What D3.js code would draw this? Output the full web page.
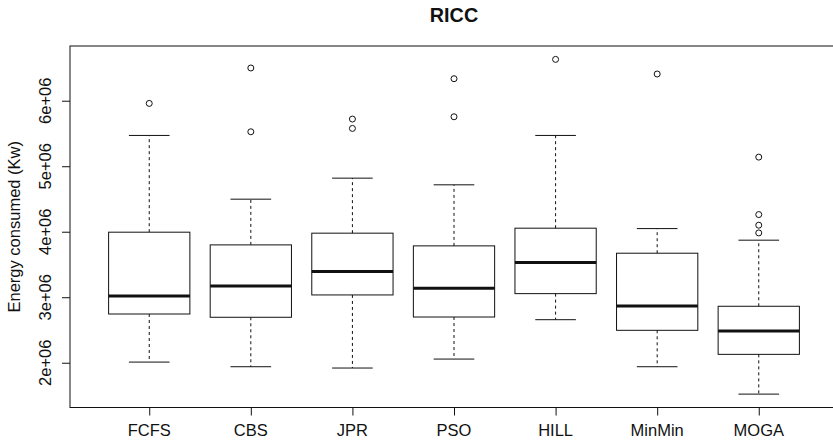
<!DOCTYPE html>
<html>
<head>
<meta charset="utf-8">
<script src="https://cdn.jsdelivr.net/npm/d3@7"></script>
<style>
  body { margin: 0; background: #fff; }
  text { font-family: "Liberation Sans", Arial, Helvetica, sans-serif; fill: #111; }
</style>
</head>
<body>
<div id="chart"></div>
<script>
// boxplot stats (values in Kw)
var categories = ["FCFS", "CBS", "JPR", "PSO", "HILL", "MinMin", "MOGA"];
var lowerWhisker = [2.010e6, 1.939e6, 1.919e6, 2.056e6, 2.657e6, 1.939e6, 1.521e6];
var q1 = [2.744e6, 2.694e6, 3.035e6, 2.698e6, 3.055e6, 2.495e6, 2.128e6];
var median = [3.019e6, 3.172e6, 3.391e6, 3.137e6, 3.529e6, 2.866e6, 2.484e6];
var q3 = [3.993e6, 3.799e6, 3.978e6, 3.784e6, 4.054e6, 3.672e6, 2.862e6];
var upperWhisker = [5.470e6, 4.497e6, 4.818e6, 4.716e6, 5.470e6, 4.048e6, 3.871e6];
var outliers = [
    [5.959e6],
    [6.500e6, 5.526e6],
    [5.720e6, 5.577e6],
    [6.336e6, 5.755e6],
    [6.631e6],
    [6.408e6],
    [5.139e6, 4.262e6, 4.100e6, 3.982e6]
];
var yTicks = [2e6, 3e6, 4e6, 5e6, 6e6];
var yTickLabels = ["2e+06", "3e+06", "4e+06", "5e+06", "6e+06"];

var width = 833,
    height = 442;
// plot region (right edge runs past the window like in the original)
var plotLeft = 70, plotRight = 838, plotTop = 46, plotBottom = 407.5;

var svg = d3.select("#chart").append("svg")
    .attr("width", width)
    .attr("height", height);

// R style: extend range by 4% each side
var allVals = lowerWhisker.concat(upperWhisker, d3.merge(outliers));
var lo = d3.min(allVals), hi = d3.max(allVals);
var pad = (hi - lo) * 0.04;

var y = d3.scaleLinear()
    .domain([lo - pad, hi + pad])
    .range([plotBottom, plotTop]);

var n = categories.length;
var x = d3.scaleLinear()
    .domain([0.5 - n * 0.04, n + 0.5 + n * 0.04])
    .range([plotLeft, plotRight]);

var unit = x(1) - x(0);
var boxW = unit * 0.8;
var capW = unit * 0.4;

var g = svg.append("g");

categories.forEach(function(c, i) {
    var cx = x(i + 1);

    // whiskers (dashed)
    g.append("line")
        .attr("x1", cx).attr("x2", cx)
        .attr("y1", y(q3[i])).attr("y2", y(upperWhisker[i]))
        .attr("stroke", "#111")
        .attr("stroke-dasharray", "3,3");
    g.append("line")
        .attr("x1", cx).attr("x2", cx)
        .attr("y1", y(q1[i])).attr("y2", y(lowerWhisker[i]))
        .attr("stroke", "#111")
        .attr("stroke-dasharray", "3,3");

    // caps
    g.append("line")
        .attr("x1", cx - capW / 2).attr("x2", cx + capW / 2)
        .attr("y1", y(upperWhisker[i])).attr("y2", y(upperWhisker[i]))
        .attr("stroke", "#111");
    g.append("line")
        .attr("x1", cx - capW / 2).attr("x2", cx + capW / 2)
        .attr("y1", y(lowerWhisker[i])).attr("y2", y(lowerWhisker[i]))
        .attr("stroke", "#111");

    // box
    g.append("rect")
        .attr("x", cx - boxW / 2)
        .attr("y", y(q3[i]))
        .attr("width", boxW)
        .attr("height", y(q1[i]) - y(q3[i]))
        .attr("fill", "none")
        .attr("stroke", "#111");

    // median
    g.append("line")
        .attr("x1", cx - boxW / 2).attr("x2", cx + boxW / 2)
        .attr("y1", y(median[i])).attr("y2", y(median[i]))
        .attr("stroke", "#111")
        .attr("stroke-width", 3);

    // outliers
    g.selectAll(null)
        .data(outliers[i])
        .enter().append("circle")
        .attr("cx", cx)
        .attr("cy", function(d) { return y(d); })
        .attr("r", 3)
        .attr("fill", "none")
        .attr("stroke", "#111");
});

// frame
svg.append("rect")
    .attr("x", plotLeft).attr("y", plotTop)
    .attr("width", plotRight - plotLeft)
    .attr("height", plotBottom - plotTop)
    .attr("fill", "none")
    .attr("stroke", "#111");

// y axis
var yAxis = svg.append("g")
    .attr("transform", "translate(" + plotLeft + ",0)")
    .call(d3.axisLeft(y).tickValues(yTicks).tickSize(8).tickFormat(""));
yAxis.select(".domain").remove();
yAxis.selectAll("line").attr("stroke", "#111");

svg.selectAll(".ylab")
    .data(yTicks)
    .enter().append("text")
    .attr("class", "ylab")
    .attr("transform", function(d) { return "translate(51," + y(d) + ") rotate(-90)"; })
    .attr("text-anchor", "middle")
    .style("font-size", "16.5px")
    .text(function(d, i) { return yTickLabels[i]; });

// x axis
var xAxis = svg.append("g")
    .attr("transform", "translate(0," + plotBottom + ")")
    .call(d3.axisBottom(x).tickValues(d3.range(1, n + 1)).tickSize(8).tickFormat(""));
xAxis.select(".domain").remove();
xAxis.selectAll("line").attr("stroke", "#111");

svg.selectAll(".xlab")
    .data(categories)
    .enter().append("text")
    .attr("class", "xlab")
    .attr("x", function(d, i) { return x(i + 1); })
    .attr("y", 436)
    .attr("text-anchor", "middle")
    .style("font-size", "16.5px")
    .text(function(d) { return d; });

// axis title
svg.append("text")
    .attr("transform", "translate(19.5," + (plotTop + plotBottom) / 2 + ") rotate(-90)")
    .attr("text-anchor", "middle")
    .style("font-size", "16.5px")
    .text("Energy consumed (Kw)");

// main title
svg.append("text")
    .attr("x", (plotLeft + plotRight) / 2)
    .attr("y", 22)
    .attr("text-anchor", "middle")
    .attr("font-weight", "bold")
    .style("font-size", "19.8px")
    .text("RICC");
</script>
</body>
</html>
